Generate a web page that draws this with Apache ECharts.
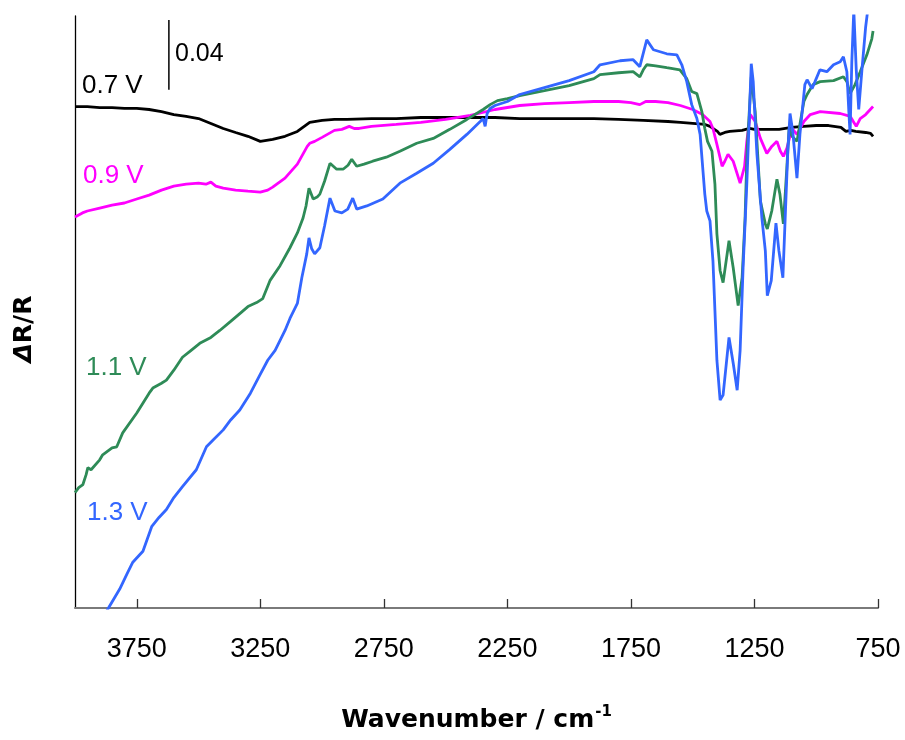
<!DOCTYPE html>
<html>
<head>
<meta charset="utf-8">
<title>ΔR/R spectra</title>
<script src="https://cdn.jsdelivr.net/npm/echarts@6/dist/echarts.min.js"></script>
<style>
  html, body { margin: 0; padding: 0; background: #fff; }
  #main { width: 905px; height: 740px; }
</style>
</head>
<body>
<div id="main"></div>
<script>
// wavenumber (cm-1) / ΔR/R
const spec07 = [[4000,0.2880],[3950,0.2880],[3900,0.2874],[3850,0.2874],[3800,0.2869],[3750,0.2869],[3700,0.2863],[3650,0.2851],[3600,0.2834],[3550,0.2823],[3500,0.2811],[3450,0.2783],[3400,0.2754],[3350,0.2731],[3300,0.2709],[3250,0.2680],[3200,0.2691],[3150,0.2709],[3100,0.2737],[3050,0.2789],[3000,0.2800],[2950,0.2806],[2900,0.2806],[2800,0.2811],[2700,0.2811],[2600,0.2817],[2500,0.2817],[2400,0.2817],[2300,0.2817],[2200,0.2811],[2100,0.2811],[2000,0.2811],[1900,0.2811],[1800,0.2806],[1700,0.2800],[1600,0.2794],[1550,0.2789],[1500,0.2783],[1450,0.2777],[1430,0.2766],[1400,0.2737],[1390,0.2720],[1370,0.2731],[1350,0.2737],[1300,0.2743],[1270,0.2754],[1250,0.2749],[1200,0.2749],[1150,0.2749],[1100,0.2760],[1050,0.2766],[1000,0.2771],[950,0.2771],[900,0.2760],[880,0.2737],[860,0.2743],[840,0.2737],[800,0.2731],[780,0.2726],[770,0.2709]];

const spec09 = [[4000,0.2246],[3970,0.2269],[3950,0.2280],[3900,0.2297],[3850,0.2314],[3800,0.2326],[3750,0.2349],[3700,0.2371],[3650,0.2400],[3600,0.2423],[3550,0.2434],[3500,0.2440],[3470,0.2434],[3450,0.2446],[3430,0.2423],[3400,0.2411],[3350,0.2400],[3300,0.2394],[3250,0.2389],[3220,0.2400],[3200,0.2417],[3150,0.2469],[3100,0.2549],[3060,0.2651],[3050,0.2669],[3030,0.2680],[3000,0.2703],[2950,0.2743],[2920,0.2749],[2890,0.2766],[2870,0.2754],[2850,0.2754],[2800,0.2766],[2700,0.2777],[2600,0.2789],[2500,0.2806],[2400,0.2829],[2300,0.2863],[2200,0.2886],[2100,0.2897],[2000,0.2903],[1900,0.2909],[1800,0.2909],[1750,0.2903],[1714,0.2891],[1690,0.2909],[1650,0.2909],[1600,0.2903],[1550,0.2886],[1500,0.2863],[1460,0.2834],[1430,0.2794],[1418,0.2754],[1402,0.2663],[1381,0.2537],[1370,0.2566],[1357,0.2606],[1336,0.2566],[1308,0.2440],[1290,0.2537],[1281,0.2680],[1267,0.2834],[1247,0.2794],[1226,0.2697],[1200,0.2611],[1180,0.2651],[1159,0.2680],[1145,0.2623],[1133,0.2594],[1119,0.2640],[1098,0.2754],[1078,0.2720],[1050,0.2794],[1024,0.2834],[984,0.2851],[903,0.2840],[862,0.2823],[850,0.2794],[838,0.2766],[822,0.2811],[800,0.2834],[770,0.2880]];

const spec11 = [[4000,0.0663],[3985,0.0691],[3968,0.0709],[3955,0.0766],[3948,0.0806],[3935,0.0794],[3928,0.0794],[3900,0.0851],[3888,0.0880],[3850,0.0920],[3831,0.0926],[3807,0.1006],[3750,0.1120],[3700,0.1234],[3685,0.1263],[3650,0.1291],[3630,0.1309],[3600,0.1366],[3565,0.1440],[3530,0.1480],[3495,0.1520],[3450,0.1554],[3414,0.1594],[3370,0.1646],[3333,0.1691],[3300,0.1731],[3265,0.1754],[3240,0.1777],[3211,0.1880],[3170,0.1966],[3130,0.2069],[3100,0.2154],[3077,0.2240],[3065,0.2309],[3053,0.2411],[3036,0.2349],[3020,0.2360],[3009,0.2377],[2990,0.2451],[2968,0.2554],[2941,0.2520],[2915,0.2520],[2895,0.2543],[2880,0.2577],[2860,0.2537],[2830,0.2549],[2795,0.2566],[2740,0.2589],[2685,0.2623],[2617,0.2669],[2550,0.2697],[2483,0.2749],[2414,0.2806],[2348,0.2863],[2320,0.2891],[2290,0.2914],[2250,0.2926],[2200,0.2943],[2100,0.2971],[2000,0.3000],[1900,0.3040],[1875,0.3063],[1800,0.3074],[1741,0.3080],[1714,0.3051],[1700,0.3091],[1686,0.3120],[1650,0.3114],[1605,0.3103],[1552,0.3091],[1524,0.3040],[1504,0.2966],[1483,0.2954],[1463,0.2851],[1451,0.2754],[1440,0.2680],[1422,0.2623],[1410,0.2434],[1402,0.2149],[1389,0.1937],[1377,0.1869],[1353,0.2109],[1336,0.1954],[1316,0.1737],[1300,0.1897],[1288,0.2240],[1280,0.2623],[1263,0.3051],[1247,0.2851],[1226,0.2337],[1206,0.2206],[1198,0.2177],[1180,0.2280],[1159,0.2463],[1147,0.2377],[1133,0.2206],[1119,0.2526],[1110,0.2754],[1098,0.2709],[1078,0.2680],[1050,0.2909],[1037,0.2949],[1013,0.3006],[984,0.3023],[930,0.3029],[890,0.3051],[876,0.3023],[863,0.2954],[843,0.3006],[822,0.3080],[795,0.3177],[775,0.3269],[770,0.3314]];

const spec13 = [[3900,-0.0086],[3867,-0.0006],[3819,0.0109],[3790,0.0194],[3766,0.0263],[3740,0.0303],[3725,0.0326],[3689,0.0469],[3660,0.0520],[3630,0.0566],[3600,0.0634],[3565,0.0697],[3509,0.0794],[3468,0.0926],[3440,0.0966],[3400,0.1023],[3370,0.1080],[3333,0.1137],[3290,0.1234],[3252,0.1337],[3220,0.1423],[3190,0.1480],[3150,0.1594],[3130,0.1663],[3100,0.1749],[3082,0.1897],[3062,0.2034],[3053,0.2126],[3042,0.2063],[3030,0.2034],[3009,0.2069],[2990,0.2194],[2968,0.2354],[2948,0.2280],[2920,0.2269],[2896,0.2291],[2876,0.2354],[2860,0.2291],[2819,0.2309],[2754,0.2349],[2685,0.2440],[2617,0.2497],[2550,0.2554],[2483,0.2634],[2414,0.2720],[2360,0.2794],[2348,0.2811],[2340,0.2766],[2332,0.2840],[2320,0.2869],[2300,0.2886],[2250,0.2909],[2200,0.2949],[2100,0.2989],[2000,0.3029],[1900,0.3080],[1875,0.3120],[1794,0.3143],[1741,0.3149],[1714,0.3109],[1686,0.3263],[1659,0.3206],[1605,0.3183],[1564,0.3177],[1544,0.3120],[1524,0.3023],[1504,0.2891],[1483,0.2811],[1470,0.2720],[1451,0.2377],[1443,0.2280],[1430,0.2223],[1418,0.1994],[1410,0.1709],[1402,0.1423],[1389,0.1194],[1377,0.1223],[1353,0.1554],[1336,0.1406],[1320,0.1251],[1308,0.1480],[1296,0.1954],[1281,0.2434],[1270,0.2851],[1263,0.3126],[1255,0.3023],[1247,0.2794],[1240,0.2606],[1220,0.2240],[1206,0.2051],[1198,0.1794],[1182,0.1880],[1163,0.2211],[1151,0.2051],[1135,0.1897],[1123,0.2337],[1115,0.2623],[1106,0.2840],[1095,0.2737],[1078,0.2469],[1066,0.2720],[1046,0.3006],[1037,0.3034],[1017,0.2983],[1005,0.3023],[985,0.3091],[957,0.3080],[930,0.3120],[903,0.3137],[890,0.3166],[876,0.3080],[868,0.2851],[863,0.2720],[856,0.3137],[848,0.3434],[838,0.3091],[828,0.2863],[815,0.3091],[800,0.3337],[790,0.3451]];

// scale bar: 0.04 in ΔR/R
const scaleBar = [[3620,0.2977],[3620,0.3377]];

const tickValues = [750,1250,1750,2250,2750,3250,3750];

const chart = echarts.init(document.getElementById("main"), null, { renderer: "canvas" });

function spectrum(name, data, color) {
  return {
    name: name,
    type: "line",
    data: data,
    showSymbol: false,
    symbol: "none",
    lineStyle: { color: color, width: 2.8 },
    itemStyle: { color: color },
    clip: true,
    silent: true,
  };
}

chart.setOption({
  animation: false,
  backgroundColor: "#fff",
  grid: { left: 75, right: 27, top: 16, bottom: 131 },
  xAxis: {
    type: "value",
    inverse: true,
    min: 750,
    max: 4000,
    name: "Wavenumber / cm{sup|-1}",
    nameLocation: "middle",
    nameGap: 97,
    nameTextStyle: {
      fontFamily: "DejaVu Sans",
      fontWeight: "bold",
      fontSize: 25,
      color: "#000",
      lineHeight: 30,
      rich: {
        sup: { fontFamily: "DejaVu Sans", fontWeight: "bold", fontSize: 15, verticalAlign: "top", lineHeight: 30, padding: [0, 0, 14, 1] },
      },
    },
    axisLine: { show: true, onZero: false, lineStyle: { color: "#7a7a7a", width: 2 } },
    axisTick: { show: true, inside: true, length: 9, customValues: tickValues, lineStyle: { color: "#333", width: 1.3 } },
    axisLabel: {
      customValues: tickValues,
      margin: 28,
      fontFamily: "Liberation Sans",
      fontSize: 27,
      color: "#000",
      formatter: function (v) { return String(v); },
    },
    splitLine: { show: false },
  },
  yAxis: {
    type: "value",
    min: 0,
    max: 0.34,
    axisLine: { show: true, lineStyle: { color: "#000", width: 1.3 } },
    axisTick: { show: false },
    axisLabel: { show: false },
    splitLine: { show: false },
  },
  graphic: [
    {
      type: "text",
      x: 24,
      y: 329,
      rotation: Math.PI / 2,
      style: {
        text: "{d|Δ}R/R",
        font: "bold 25px 'DejaVu Sans'",
        fill: "#000",
        align: "center",
        verticalAlign: "middle",
        rich: { d: { fontStyle: "italic", fontWeight: "bold", fontSize: 25, fontFamily: "DejaVu Sans" } },
      },
    },
    { type: "text", x: 175, y: 54, style: { text: "0.04", font: "25px 'Liberation Sans'", fill: "#000", verticalAlign: "middle" } },
    { type: "text", x: 82, y: 86, style: { text: "0.7 V", font: "26px 'Liberation Sans'", fill: "#000", verticalAlign: "middle" } },
    { type: "text", x: 83, y: 176, style: { text: "0.9 V", font: "26px 'Liberation Sans'", fill: "#ff00ff", verticalAlign: "middle" } },
    { type: "text", x: 86, y: 368, style: { text: "1.1 V", font: "26px 'Liberation Sans'", fill: "#2e8b57", verticalAlign: "middle" } },
    { type: "text", x: 87, y: 513, style: { text: "1.3 V", font: "26px 'Liberation Sans'", fill: "#3366ff", verticalAlign: "middle" } },
  ],
  series: [
    spectrum("0.7 V", spec07, "#000000"),
    spectrum("0.9 V", spec09, "#ff00ff"),
    spectrum("1.1 V", spec11, "#2e8b57"),
    spectrum("1.3 V", spec13, "#3366ff"),
    {
      name: "scale",
      type: "line",
      data: scaleBar,
      showSymbol: false,
      symbol: "none",
      lineStyle: { color: "#000", width: 1.5 },
      silent: true,
    },
  ],
});
</script>
</body>
</html>
